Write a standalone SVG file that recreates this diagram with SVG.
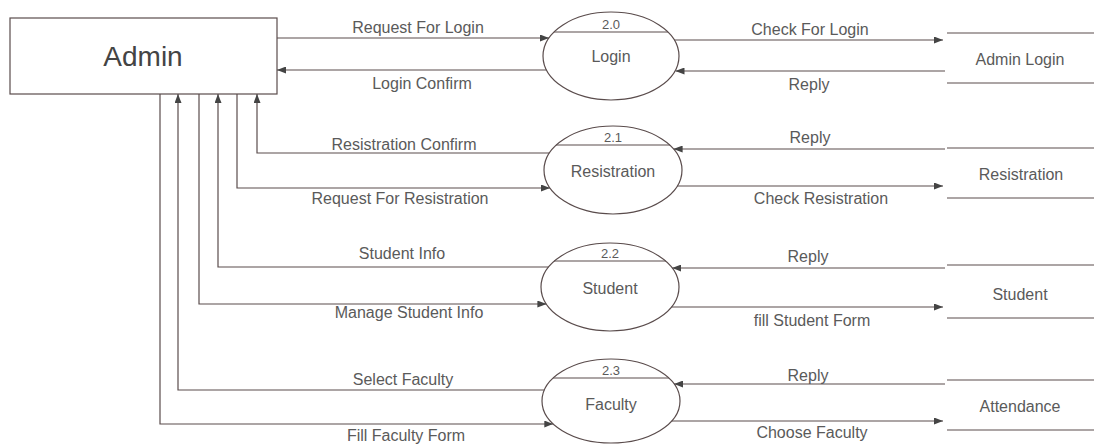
<svg xmlns="http://www.w3.org/2000/svg" width="1094" height="445" viewBox="0 0 1094 445">
<defs>
<style>
.ln{fill:none;stroke:#5a4c4c;stroke-width:1.2}
.nd{fill:#fff;stroke:#5a4c4c;stroke-width:1.2}
.t{font-family:"Liberation Sans",Arial,sans-serif;font-size:16px;fill:#5a5a5a;text-anchor:middle}
.n{font-family:"Liberation Sans",Arial,sans-serif;font-size:13px;fill:#5a5a5a;text-anchor:middle}
.big{font-family:"Liberation Sans",Arial,sans-serif;font-size:28px;fill:#444;text-anchor:middle}
</style>
<marker id="ah" markerWidth="9" markerHeight="7" refX="9" refY="3.5" orient="auto" markerUnits="userSpaceOnUse">
<path d="M0,0 L9,3.5 L0,7 Z" fill="#444"/>
</marker>
</defs>
<rect width="1094" height="445" fill="#fff"/>

<g id="admin">
<rect class="nd" x="10" y="18" width="267" height="76"/>
<text class="big" x="143" y="66">Admin</text>
</g>

<g id="p-login">
<ellipse class="nd" cx="611" cy="56" rx="68" ry="44"/>
<line class="ln" x1="554" y1="32" x2="668" y2="32"/>
<text class="n" x="611" y="29">2.0</text>
<text class="t" x="611" y="62">Login</text>
</g>
<g id="p-resistration">
<ellipse class="nd" cx="613" cy="170" rx="69" ry="44"/>
<line class="ln" x1="556" y1="145" x2="670" y2="145"/>
<text class="n" x="613" y="142">2.1</text>
<text class="t" x="613" y="177">Resistration</text>
</g>
<g id="p-student">
<ellipse class="nd" cx="610" cy="287" rx="69" ry="44"/>
<line class="ln" x1="554" y1="261" x2="666" y2="261"/>
<text class="n" x="610" y="258">2.2</text>
<text class="t" x="610" y="294">Student</text>
</g>
<g id="p-faculty">
<ellipse class="nd" cx="611" cy="401" rx="69" ry="42"/>
<line class="ln" x1="553" y1="378" x2="669" y2="378"/>
<text class="n" x="611" y="375">2.3</text>
<text class="t" x="611" y="410">Faculty</text>
</g>

<g id="s-adminlogin">
<line class="ln" x1="947" y1="33" x2="1094" y2="33"/>
<line class="ln" x1="947" y1="83" x2="1094" y2="83"/>
<text class="t" x="1020" y="65">Admin Login</text>
</g>
<g id="s-resistration">
<line class="ln" x1="947" y1="148" x2="1094" y2="148"/>
<line class="ln" x1="947" y1="198" x2="1094" y2="198"/>
<text class="t" x="1021" y="180">Resistration</text>
</g>
<g id="s-student">
<line class="ln" x1="947" y1="265" x2="1094" y2="265"/>
<line class="ln" x1="947" y1="318" x2="1094" y2="318"/>
<text class="t" x="1020" y="300">Student</text>
</g>
<g id="s-attendance">
<line class="ln" x1="947" y1="380" x2="1094" y2="380"/>
<line class="ln" x1="947" y1="430" x2="1094" y2="430"/>
<text class="t" x="1020" y="412">Attendance</text>
</g>

<g id="connectors">
<path class="ln" d="M277,38 H549" marker-end="url(#ah)"/>
<path class="ln" d="M546.5,70 H277" marker-end="url(#ah)"/>
<path class="ln" d="M674.3,40 H943" marker-end="url(#ah)"/>
<path class="ln" d="M945,71 H675.5" marker-end="url(#ah)"/>

<path class="ln" d="M549.4,153 H257 V94" marker-end="url(#ah)"/>
<path class="ln" d="M237,94 V188 H550" marker-end="url(#ah)"/>
<path class="ln" d="M945,149 H673.6" marker-end="url(#ah)"/>
<path class="ln" d="M677.3,186 H943" marker-end="url(#ah)"/>

<path class="ln" d="M548.5,267 H218 V94" marker-end="url(#ah)"/>
<path class="ln" d="M199,94 V304 H546.4" marker-end="url(#ah)"/>
<path class="ln" d="M945,268 H672.2" marker-end="url(#ah)"/>
<path class="ln" d="M671.5,307 H943" marker-end="url(#ah)"/>

<path class="ln" d="M544.4,390 H178 V94" marker-end="url(#ah)"/>
<path class="ln" d="M160,94 V424 H553.3" marker-end="url(#ah)"/>
<path class="ln" d="M945,384 H674.1" marker-end="url(#ah)"/>
<path class="ln" d="M671.7,421 H943" marker-end="url(#ah)"/>
</g>

<g id="labels">
<text class="t" x="418" y="33">Request For Login</text>
<text class="t" x="422" y="89">Login Confirm</text>
<text class="t" x="810" y="35">Check For Login</text>
<text class="t" x="809" y="90">Reply</text>
<text class="t" x="404" y="150">Resistration Confirm</text>
<text class="t" x="400" y="204">Request For Resistration</text>
<text class="t" x="810" y="143">Reply</text>
<text class="t" x="821" y="204">Check Resistration</text>
<text class="t" x="402" y="259">Student Info</text>
<text class="t" x="409" y="318">Manage Student Info</text>
<text class="t" x="808" y="262">Reply</text>
<text class="t" x="812" y="326">fill Student Form</text>
<text class="t" x="403" y="385">Select Faculty</text>
<text class="t" x="406" y="441">Fill Faculty Form</text>
<text class="t" x="808" y="381">Reply</text>
<text class="t" x="812" y="438">Choose Faculty</text>
</g>
</svg>
